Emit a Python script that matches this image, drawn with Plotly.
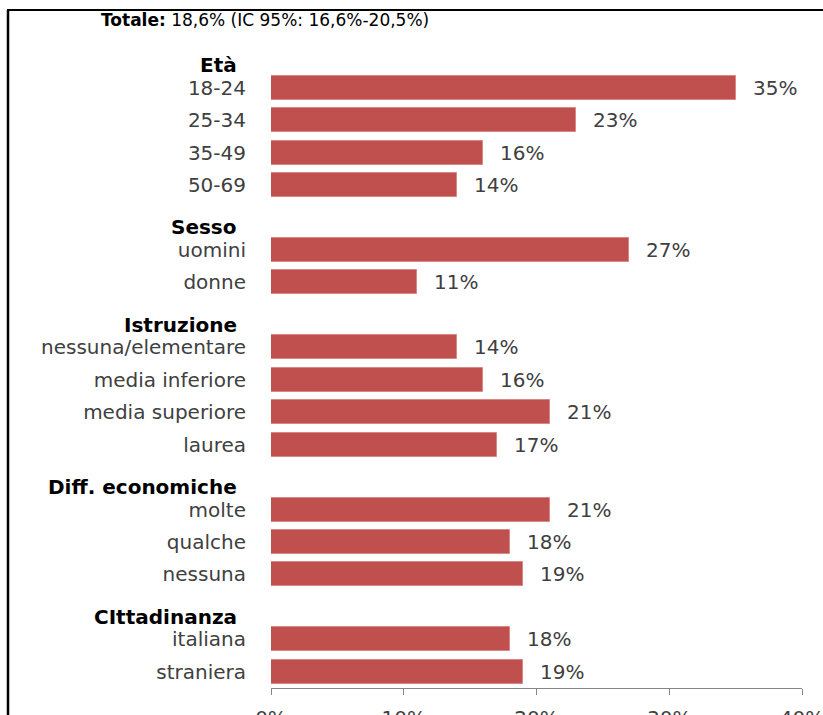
import plotly.graph_objects as go

# Groups, their category labels and prevalence values (%)
groups = ["Età", "Sesso", "Istruzione", "Diff. economiche", "CIttadinanza"]
eta_labels = ["18-24", "25-34", "35-49", "50-69"]
eta_values = [35, 23, 16, 14]
sesso_labels = ["uomini", "donne"]
sesso_values = [27, 11]
istruzione_labels = ["nessuna/elementare", "media inferiore", "media superiore", "laurea"]
istruzione_values = [14, 16, 21, 17]
economiche_labels = ["molte", "qualche", "nessuna"]
economiche_values = [21, 18, 19]
cittadinanza_labels = ["italiana", "straniera"]
cittadinanza_values = [18, 19]
x_ticks = [0, 10, 20, 30, 40]
x_tick_labels = ["0%", "10%", "20%", "30%", "40%"]
title_bold = "Totale:"
title_rest = " 18,6% (IC 95%: 16,6%-20,5%)"

group_labels = [eta_labels, sesso_labels, istruzione_labels, economiche_labels, cittadinanza_labels]
group_values = [eta_values, sesso_values, istruzione_values, economiche_values, cittadinanza_values]

# Lay out rows: each group gets a header row followed by its categories
ypos, labels, values, header_rows = [], [], [], []
row = 0
for g, labs, vals in zip(groups, group_labels, group_values):
    header_rows.append(row)
    row += 1
    for lab, v in zip(labs, vals):
        ypos.append(row)
        labels.append(lab)
        values.append(v)
        row += 1
n_rows = row

# Plot area geometry in pixels
W, H = 823, 715
L, R, T, B = 271, 802, 39, 688
pw, ph = R - L, B - T


def px_x(x):
    return (x - L) / pw


def px_y(y):
    return (B - y) / ph


FONT = "DejaVu Sans"
TXT = "#404040"

fig = go.Figure(
    go.Bar(
        x=values,
        y=ypos,
        orientation="h",
        width=0.74,
        marker=dict(color="#C0504D", line=dict(color="#D98785", width=1)),
        hoverinfo="x+y",
    )
)

annotations = []
# value labels next to each bar
for v, y in zip(values, ypos):
    annotations.append(dict(
        x=v, y=y, xref="x", yref="y", text=f"{v}%", showarrow=False,
        xanchor="left", yanchor="middle", xshift=15,
        font=dict(family=FONT, size=20, color=TXT),
    ))
# group headers
for g, r in zip(groups, header_rows):
    annotations.append(dict(
        x=px_x(239), y=r + 0.3, xref="paper", yref="y", text=f"<b>{g}</b>",
        showarrow=False, xanchor="right", yanchor="middle",
        font=dict(family=FONT, size=20, color="#000000"),
    ))
# overall title
annotations.append(dict(
    x=px_x(265), y=px_y(20), xref="paper", yref="paper",
    text=f"<b>{title_bold}</b>{title_rest}", showarrow=False,
    xanchor="center", yanchor="middle",
    font=dict(family=FONT, size=17, color="#000000"),
))

shapes = [
    dict(type="line", xref="paper", yref="paper", x0=px_x(8), x1=px_x(8),
         y0=px_y(10), y1=px_y(740), line=dict(color="#000000", width=2.5)),
    dict(type="line", xref="paper", yref="paper", x0=px_x(7), x1=px_x(840),
         y0=px_y(10), y1=px_y(10), line=dict(color="#000000", width=2)),
]

fig.update_layout(
    width=W, height=H,
    margin=dict(l=L, r=W - R, t=T, b=H - B, pad=0, autoexpand=False),
    paper_bgcolor="white", plot_bgcolor="white",
    showlegend=False,
    annotations=annotations,
    shapes=shapes,
    bargap=0,
)
fig.update_xaxes(
    range=[0, 40], tickvals=x_ticks, ticktext=x_tick_labels,
    showgrid=False, zeroline=False, automargin=False,
    showline=True, linecolor="#868686", linewidth=1,
    ticks="outside", ticklen=6, tickcolor="#868686",
    tickfont=dict(family=FONT, size=20, color=TXT),
    ticklabelstandoff=6, ticklabeloverflow="allow",
)
fig.update_yaxes(
    range=[n_rows - 0.5, -0.5], tickvals=ypos, ticktext=labels,
    showgrid=False, zeroline=False, showline=False, ticks="",
    automargin=False,
    tickfont=dict(family=FONT, size=20, color=TXT),
    ticklabelstandoff=24,
)

fig.write_html("out.html")
